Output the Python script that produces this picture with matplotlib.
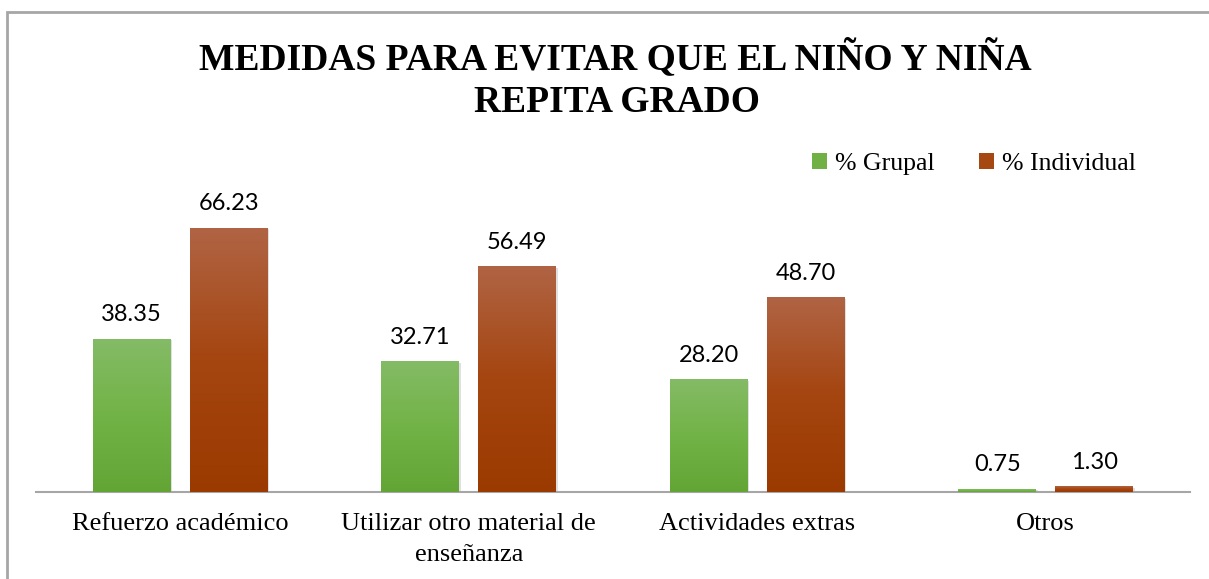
import numpy as np
import matplotlib
matplotlib.use("Agg")
import matplotlib.pyplot as plt
from matplotlib.patches import Rectangle
from matplotlib.colors import LinearSegmentedColormap

categories = ["Refuerzo académico", "Utilizar otro material de\nenseñanza", "Actividades extras", "Otros"]
grupal = [38.35, 32.71, 28.20, 0.75]
individual = [66.23, 56.49, 48.70, 1.30]
series_names = ["% Grupal", "% Individual"]
title_lines = ["MEDIDAS PARA EVITAR QUE EL NIÑO Y NIÑA", "REPITA GRADO"]

W, H = 1209, 579
fig = plt.figure(figsize=(W / 100, H / 100), dpi=100)
fig.patch.set_facecolor("white")

# outer frame (left/top visible)
fig.patches.append(Rectangle((6.5 / W, -0.1), 1.2, 1 - 12.5 / H + 0.1,
                             transform=fig.transFigure, fill=False,
                             edgecolor="#a6a6a6", linewidth=2.0))

ax_left, ax_right = 36, 1190
ax_bottom, ax_top = 492, 213
ax = fig.add_axes([ax_left / W, 1 - ax_bottom / H, (ax_right - ax_left) / W, (ax_bottom - ax_top) / H])
for s in ["top", "right", "left"]:
    ax.spines[s].set_visible(False)
ax.spines["bottom"].set_color("#a6a6a6")
ax.spines["bottom"].set_linewidth(1.5)
ax.set_yticks([])

x = np.arange(len(categories))
bw = 0.27
off = (bw + 0.066) / 2

green_cmap = LinearSegmentedColormap.from_list("g", ["#63a535", "#72b347", "#84bb66"])
red_cmap = LinearSegmentedColormap.from_list("r", ["#9b3a00", "#a54510", "#b06444"])
grad = np.linspace(0, 1, 256).reshape(-1, 1)

def draw_bars(xs, vals, cmap, mid_color, label):
    bars = ax.bar(xs, vals, width=bw, color=mid_color, label=label, zorder=2)
    for b, v in zip(bars, vals):
        x0 = b.get_x()
        ax.add_patch(Rectangle((x0 + 0.006, -0.4), bw, v + 0.1, color="#000000",
                               alpha=0.12, zorder=1, linewidth=0))
        ax.imshow(grad, extent=(x0, x0 + bw, 0, v), origin="lower", cmap=cmap,
                  aspect="auto", zorder=3, vmin=0, vmax=1)
    return bars

b1 = draw_bars(x - off, grupal, green_cmap, "#70b045", series_names[0])
b2 = draw_bars(x + off, individual, red_cmap, "#a54812", series_names[1])
ax.set_xlim(-0.5, 3.5)
ax.set_ylim(0, 70)

for bars, vals in ((b1, grupal), (b2, individual)):
    for b, v in zip(bars, vals):
        ax.annotate(f"{v:.2f}", (b.get_x() + bw / 2, v), xytext=(0, 10),
                    textcoords="offset points", ha="center", va="bottom",
                    fontsize=17, family="Lato", color="#000000")

ax.set_xticks(x)
ax.set_xticklabels(categories, family="Liberation Serif", fontsize=19, linespacing=1.55)
ax.tick_params(axis="x", length=0, pad=15)

leg = fig.legend(handles=[b1, b2], labels=series_names, loc="center left",
                 bbox_to_anchor=(812 / W, 1 - 164 / H), bbox_transform=fig.transFigure,
                 ncol=2, frameon=False, prop={"family": "Liberation Serif", "size": 18.5},
                 borderpad=0, borderaxespad=0,
                 handlelength=0.58, handleheight=0.58, handletextpad=0.3, columnspacing=1.75)

fig.text(615 / W, 1 - 69 / H, title_lines[0], ha="center", va="baseline",
         family="Liberation Serif", fontweight="bold", fontsize=27)
fig.text(617 / W, 1 - 112 / H, title_lines[1], ha="center", va="baseline",
         family="Liberation Serif", fontweight="bold", fontsize=27)

fig.savefig("out.png", dpi=100, facecolor="white")
